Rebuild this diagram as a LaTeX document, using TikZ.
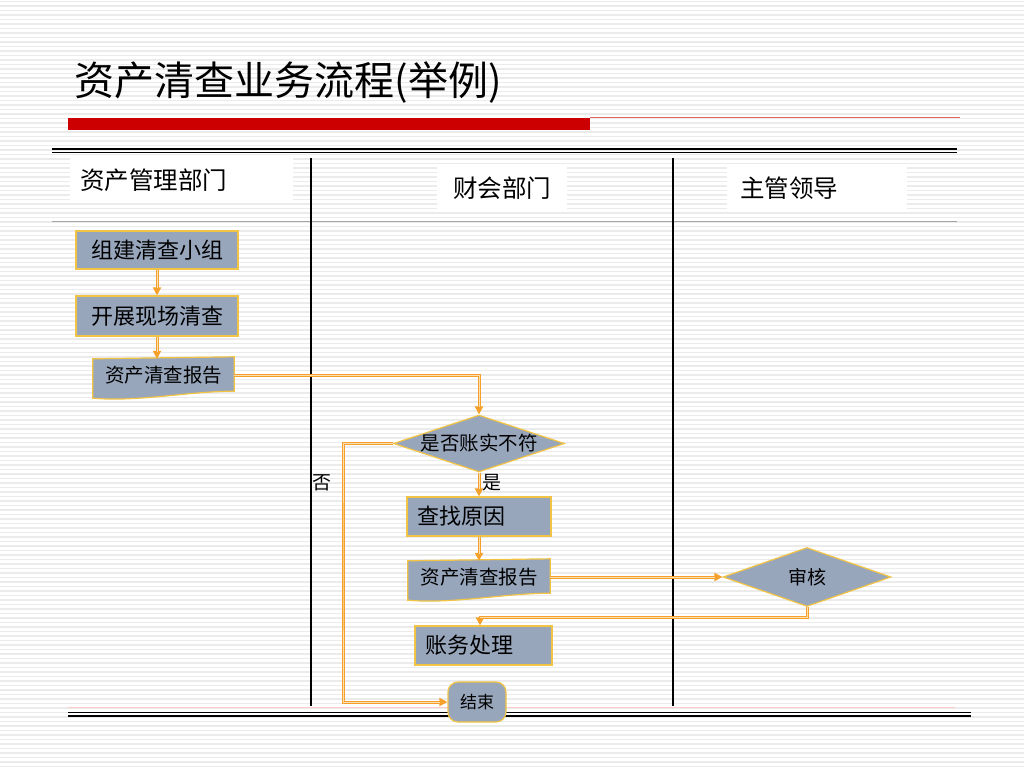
\documentclass[tikz,border=0pt]{standalone}
\usepackage{fontspec}
\setmainfont{Noto Sans CJK SC}
\usepackage{tikz}
\usetikzlibrary{shapes.geometric,arrows.meta,calc,positioning}
\definecolor{slate}{HTML}{98A6BC}
\definecolor{gold}{HTML}{F2C445}
\definecolor{flowc}{HTML}{F5A02A}
\definecolor{barred}{HTML}{CC0000}
\pgfdeclarelayer{stripes}
\pgfdeclarelayer{shapes}
\pgfsetlayers{stripes,shapes,main}
\newcommand{\fs}[1]{\fontsize{#1}{#1}\selectfont}

\begin{document}
\begin{tikzpicture}[x=1pt,y=-1pt,
  box/.style={rectangle,draw=gold,fill=slate,line width=1.2pt,inner sep=0pt,font=\fs{22}},
  doc/.style={inner sep=0pt,font=\fs{19.5}},
  dec/.style={diamond,draw=gold,fill=slate,line width=1.2pt,inner sep=-4pt,aspect=3},
  flow/.style={draw=flowc,line width=3pt,-{Triangle[length=8pt,width=8pt]},
    postaction={draw=flowc!35!white,line width=0.9pt,-,shorten >=7pt}},
  lane/.style={fill=white,inner ysep=0pt,minimum height=45,font=\fs{24.5}}]
  \useasboundingbox (0,0) rectangle (1024,768);

  % striped background
  \begin{pgfonlayer}{stripes}
    \foreach \y in {1.5,6,...,768}
      \draw[gray!16,line width=1.8pt] (0,\y) -- (1024,\y);
  \end{pgfonlayer}

  \node[anchor=west,font=\fs{40}] (title) at (71,82) {资产清查业务流程(举例)};
  \fill[barred] (68,118) rectangle (590,130);
  \draw[barred!60,line width=1.5pt] (590,117.5) -- (960,117.5);

  % table frame
  \draw[line width=2pt] (52,148.5) -- (957,148.5);
  \draw[line width=1pt] (52,152) -- (957,152);
  \draw[gray!70,line width=1pt] (52,221.5) -- (957,221.5);
  \draw[line width=1.2pt] (311,158) -- (311,706);
  \draw[line width=1.2pt] (673,158) -- (673,706);
  \draw[red!20,line width=0.8pt] (68,707.5) -- (955,707.5);
  \draw[line width=1.5pt] (68,712.5) -- (971,712.5);
  \draw[line width=2pt] (68,716) -- (971,716);

  \node[lane,anchor=west,inner xsep=10pt,text width=203,align=left] (h1) at (70,180.5) {资产管理部门};
  \node[lane,minimum width=130] (h2) at (502,188) {财会部门};
  \node[lane,anchor=west,inner xsep=13pt,text width=154,align=left] (h3) at (727,188) {主管领导};

  % steps
  \node[box,minimum width=162,minimum height=38] (b1) at (157,250) {组建清查小组};
  \node[box,minimum width=162,minimum height=40] (b2) at (157,316) {开展现场清查};
  \node[doc,minimum width=141,minimum height=32] (r1) at (163.5,375) {资产清查报告};
  \node[dec,minimum width=171,minimum height=57,font=\fs{19.5}] (d1) at (479,443.5) {是否账实不符};
  \node[box,minimum width=144,minimum height=39,text width=124,align=left] (q1) at (479,516.5) {查找原因};
  \node[doc,minimum width=142,minimum height=32] (r2) at (479,577) {资产清查报告};
  \node[box,minimum width=137,minimum height=39,text width=117,align=left] (p1) at (483.5,645.5) {账务处理};
  \node[box,rounded corners=10pt,minimum width=58,minimum height=40,font=\fs{17}] (e1) at (477,702) {结束};
  \node[dec,minimum width=168,minimum height=59,font=\fs{19}] (a1) at (807,577) {审核};
  \node[font=\fs{19}] (no) at (322,483) {否};
  \node[font=\fs{19}] (yes) at (492,483) {是};

  % document shapes
  \begin{pgfonlayer}{shapes}
    \foreach \n in {r1,r2}
      \filldraw[draw=gold,fill=slate,line width=1.2pt]
        (\n.north west) -- ($(\n.north east)+(0,-2)$) -- (\n.south east)
        .. controls ($(\n.south east)+(-45,0)$) and ($(\n.south west)+(45,11)$) ..
        ($(\n.south west)+(0,7)$) -- cycle;
  \end{pgfonlayer}

  % connectors
  \coordinate (k1) at (480,617);
  \coordinate (k2) at (343,560);
  \draw[flow] (b1) -- (b2);
  \draw[flow] (b2.south) -- (b2.south |- r1.north);
  \draw[flow] (r1.east) -| (d1.north);
  \draw[flow] (d1.south) -- (q1.north);
  \draw[flow] (q1.south) -- (r2.north);
  \draw[flow] (r2.east) -- (a1.west);
  \draw[flow] (a1.south) |- (k1) -- (k1 |- p1.north);
  \draw[flow] (d1.west) -| (k2) |- (e1.west);
\end{tikzpicture}
\end{document}
